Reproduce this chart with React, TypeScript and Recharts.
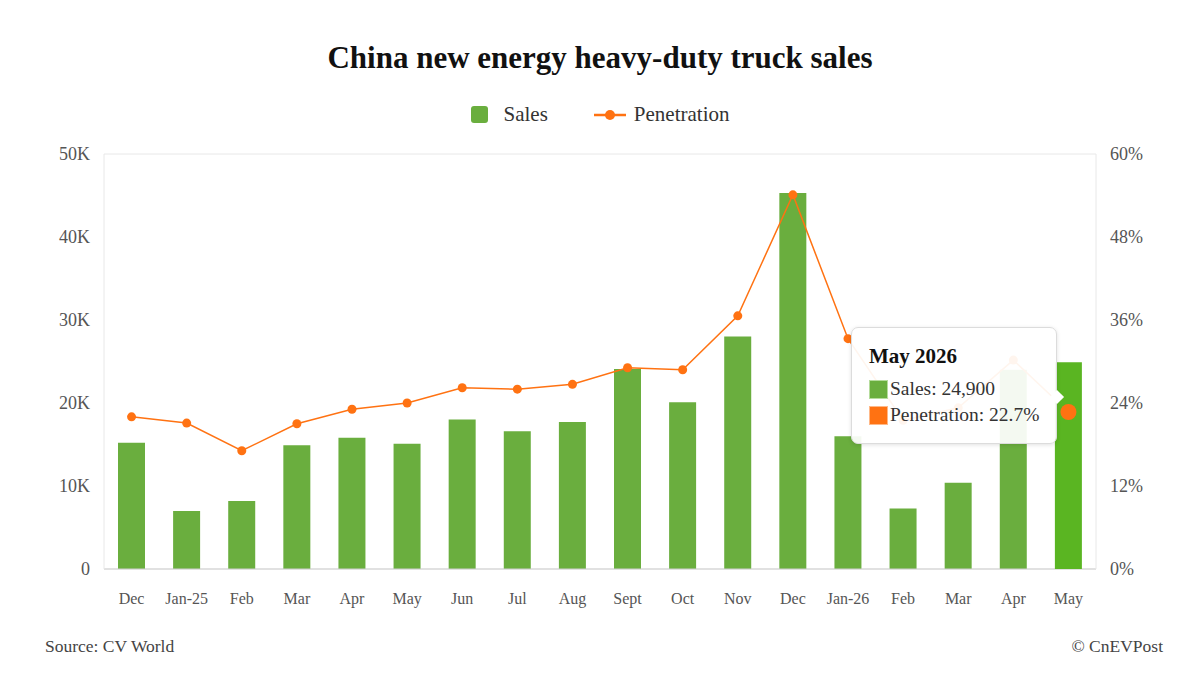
import React from 'react';
import { ComposedChart, Bar, Line, XAxis, YAxis, CartesianGrid, Tooltip } from 'recharts';

const months = ['Dec', 'Jan-25', 'Feb', 'Mar', 'Apr', 'May', 'Jun', 'Jul', 'Aug', 'Sept', 'Oct', 'Nov', 'Dec', 'Jan-26', 'Feb', 'Mar', 'Apr', 'May'];
const fullLabels = [
  'Dec 2024', 'Jan 2025', 'Feb 2025', 'Mar 2025', 'Apr 2025', 'May 2025', 'Jun 2025', 'Jul 2025', 'Aug 2025',
  'Sept 2025', 'Oct 2025', 'Nov 2025', 'Dec 2025', 'Jan 2026', 'Feb 2026', 'Mar 2026', 'Apr 2026', 'May 2026',
];
const sales = [15200, 7000, 8200, 14900, 15800, 15100, 18000, 16600, 17700, 24100, 20100, 28000, 45300, 16000, 7300, 10400, 24000, 24900];
const penetration = [22.0, 21.1, 17.1, 21.0, 23.1, 24.0, 26.2, 26.0, 26.7, 29.1, 28.8, 36.6, 54.1, 33.3, 21.5, 23.3, 30.2, 22.7];

const salesTicks = [0, 10000, 20000, 30000, 40000, 50000];
const penTicks = [0, 12, 24, 36, 48, 60];

const chartData = months.map((m, i) => ({
  month: m,
  full: fullLabels[i],
  sales: sales[i],
  penetration: penetration[i],
}));

const FONT = '"Liberation Serif", "DejaVu Serif", serif';
const GREEN = '#6aae3e';
const GREEN_ACTIVE = '#5ab522';
const ORANGE = '#ff7212';

const ChartLegend = () => (
  <div
    style={{
      position: 'absolute',
      top: 102,
      left: 0,
      width: 1200,
      display: 'flex',
      justifyContent: 'center',
      alignItems: 'center',
      fontSize: 21,
      color: '#333',
    }}
  >
    <span style={{ display: 'inline-block', width: 17, height: 17, borderRadius: 3, background: GREEN, marginRight: 16 }} />
    <span style={{ marginRight: 46 }}>Sales</span>
    <svg width={32} height={14} style={{ marginRight: 8 }}>
      <line x1={0} y1={7} x2={32} y2={7} stroke={ORANGE} strokeWidth={2.5} />
      <circle cx={16} cy={7} r={5} fill={ORANGE} />
    </svg>
    <span>Penetration</span>
  </div>
);

const TooltipContent = ({ active, payload }: any) => {
  if (!active || !payload || !payload.length) return null;
  const row = payload[0].payload;
  return (
    <div
      style={{
        position: 'relative',
        width: 206,
        boxSizing: 'border-box',
        padding: '15px 10px 15px 17px',
        background: 'rgba(255,255,255,0.93)',
        border: '1px solid #dcdcdc',
        borderRadius: 7,
        boxShadow: '0 1px 4px rgba(0,0,0,0.12)',
        fontFamily: FONT,
        fontSize: 19.5,
        color: '#333',
        lineHeight: '26px',
      }}
    >
      <div style={{ fontWeight: 'bold', fontSize: 21, color: '#111', marginBottom: 7 }}>{row.full}</div>
      <div style={{ display: 'flex', alignItems: 'center' }}>
        <span style={{ display: 'inline-block', width: 17, height: 17, background: GREEN, border: '1px solid #b5dc9c', marginRight: 2 }} />
        Sales: {row.sales.toLocaleString('en-US')}
      </div>
      <div style={{ display: 'flex', alignItems: 'center' }}>
        <span style={{ display: 'inline-block', width: 17, height: 17, background: ORANGE, border: '1px solid #ffb887', marginRight: 2 }} />
        Penetration: {row.penetration}%
      </div>
      <div
        style={{
          position: 'absolute',
          right: -6,
          top: 64,
          width: 10,
          height: 10,
          background: 'white',
          transform: 'rotate(45deg)',
        }}
      />
    </div>
  );
};

export default function App() {
  return (
    <div style={{ position: 'absolute', left: 0, top: 0, width: 1200, height: 674, background: '#fff', fontFamily: FONT }}>
      <div
        style={{
          position: 'absolute',
          top: 40,
          left: 0,
          width: 1200,
          textAlign: 'center',
          fontWeight: 'bold',
          fontSize: 31,
          color: '#111',
        }}
      >
        China new energy heavy-duty truck sales
      </div>
      <ChartLegend />
      <ComposedChart
        width={1200}
        height={674}
        data={chartData}
        margin={{ top: 154, right: 44, bottom: 65, left: 44 }}
        barCategoryGap={0}
      >
        <CartesianGrid vertical={false} stroke="#e8e8e8" />
        <XAxis
          dataKey="full"
          axisLine={{ stroke: '#cfcfcf' }}
          tickLine={false}
          height={40}
          tickMargin={18}
          tickFormatter={(_v: string, i: number) => months[i]}
          tick={{ fill: '#555', fontSize: 16, fontFamily: FONT }}
          interval={0}
        />
        <YAxis
          yAxisId="left"
          domain={[0, 50000]}
          ticks={salesTicks}
          width={60}
          axisLine={{ stroke: '#e8e8e8' }}
          tickLine={false}
          tickMargin={8}
          tickFormatter={(v: number) => (v === 0 ? '0' : `${v / 1000}K`)}
          tick={{ fill: '#555', fontSize: 18, fontFamily: FONT }}
        />
        <YAxis
          yAxisId="right"
          orientation="right"
          domain={[0, 60]}
          ticks={penTicks}
          width={60}
          axisLine={{ stroke: '#e8e8e8' }}
          tickLine={false}
          tickMargin={8}
          tickFormatter={(v: number) => `${v}%`}
          tick={{ fill: '#555', fontSize: 18, fontFamily: FONT }}
        />
        <Bar
          yAxisId="left"
          dataKey="sales"
          name="Sales"
          fill={GREEN}
          barSize={27}
          activeBar={{ fill: GREEN_ACTIVE }}
          isAnimationActive={false}
        />
        <Line
          yAxisId="right"
          dataKey="penetration"
          name="Penetration"
          type="linear"
          stroke={ORANGE}
          strokeWidth={1.5}
          dot={{ r: 4.5, fill: ORANGE, stroke: ORANGE, strokeWidth: 0 }}
          activeDot={{ r: 8, fill: ORANGE, stroke: ORANGE, strokeWidth: 0 }}
          isAnimationActive={false}
        />
        <Tooltip
          defaultIndex={17}
          cursor={false}
          content={<TooltipContent />}
          position={{ x: 851, y: 327 }}
          isAnimationActive={false}
        />
      </ComposedChart>
      <div style={{ position: 'absolute', left: 45, top: 636, fontSize: 17.5, color: '#444' }}>Source: CV World</div>
      <div style={{ position: 'absolute', right: 37, top: 636, fontSize: 17.5, color: '#444' }}>© CnEVPost</div>
    </div>
  );
}
